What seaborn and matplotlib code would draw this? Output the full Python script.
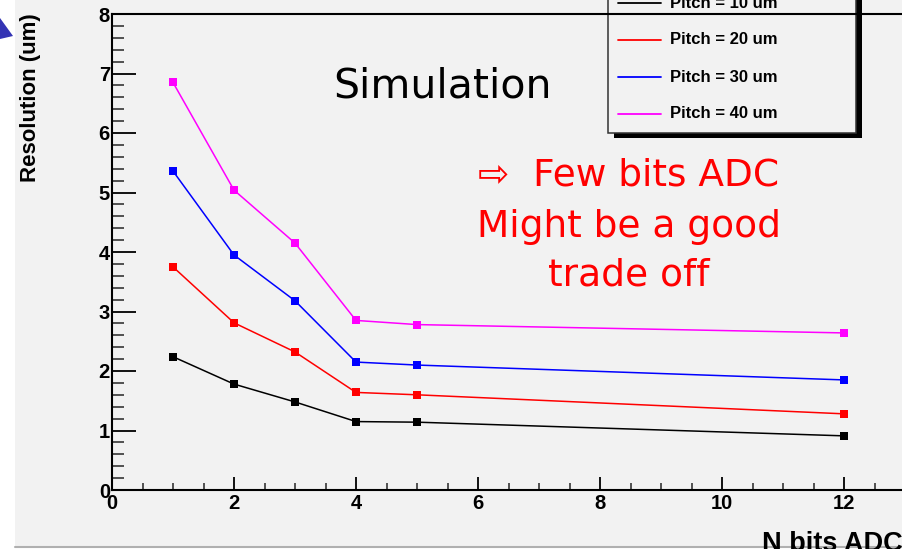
import numpy as np
import pandas as pd
import matplotlib
matplotlib.use("Agg")
import matplotlib.pyplot as plt
from matplotlib.patches import Rectangle, Polygon
from matplotlib.lines import Line2D
from matplotlib.ticker import MultipleLocator
import seaborn as sns

# ---- data ----
n_bits = [1, 2, 3, 4, 5, 12]
res_pitch10 = [2.24, 1.78, 1.48, 1.15, 1.14, 0.91]
res_pitch20 = [3.75, 2.81, 2.32, 1.64, 1.60, 1.28]
res_pitch30 = [5.36, 3.95, 3.18, 2.15, 2.10, 1.85]
res_pitch40 = [6.85, 5.04, 4.15, 2.85, 2.78, 2.64]
series_labels = ["Pitch = 10 um", "Pitch = 20 um", "Pitch = 30 um", "Pitch = 40 um"]
series_colors = ["#000000", "#ff0000", "#0000ff", "#ff00ff"]
x_title = "N bits ADC"
y_title = "Resolution (um)"
note_title = "Simulation"
note_lines = ["\u21e8  Few bits ADC", "Might be a good", "trade off"]

df = pd.concat([
    pd.DataFrame({"bits": n_bits, "res": vals, "pitch": lab})
    for vals, lab in zip([res_pitch10, res_pitch20, res_pitch30, res_pitch40], series_labels)
])

sns.set_theme(style="white")
plt.rcParams["font.family"] = ["Liberation Sans", "DejaVu Sans"]

W, H = 902, 549
fig = plt.figure(figsize=(W / 100, H / 100), dpi=100, facecolor="white")

def fx(x):
    return x / W

def fy(y):
    return 1 - y / H

# slide panel background and decoration
fig.patches.append(Rectangle((fx(15), fy(546)), fx(W) - fx(15), fy(0) - fy(546),
                             transform=fig.transFigure, facecolor="#f2f2f2",
                             edgecolor="none", zorder=-10))
fig.lines.append(Line2D([fx(15), 1], [fy(547), fy(547)], transform=fig.transFigure,
                        color="#b0b0b0", lw=1.5, zorder=-9))
fig.patches.append(Polygon([(fx(0), fy(18)), (fx(13), fy(36)), (fx(0), fy(39))],
                           closed=True, transform=fig.transFigure,
                           facecolor="#3434b4", edgecolor="none", zorder=-8))

# axes: x 0 -> px 112, 61 px/unit ; y 0 -> px 490, 59.5 px/unit
xmax = 13.5
ax_left = 112
ax_w = xmax * 61
ax = fig.add_axes([fx(ax_left), fy(490), ax_w / W, (490 - 14) / H])
ax.set_facecolor("none")

sns.lineplot(data=df, x="bits", y="res", hue="pitch", palette=series_colors,
             marker="s", markersize=5.8, markeredgewidth=0, linewidth=1.1,
             legend=False, ax=ax, zorder=2)

ax.set_xlim(0, xmax)
ax.set_ylim(0, 8)
ax.xaxis.set_major_locator(MultipleLocator(2))
ax.xaxis.set_minor_locator(MultipleLocator(0.5))
ax.yaxis.set_major_locator(MultipleLocator(1))
ax.yaxis.set_minor_locator(MultipleLocator(0.2))
ax.tick_params(axis="y", which="major", direction="in", length=17, width=1.3,
               pad=1.5, labelsize=14.5, colors="black", left=True)
ax.tick_params(axis="y", which="minor", direction="in", length=8.6, width=1.1, left=True)
ax.tick_params(axis="x", which="major", direction="in", length=9.5, width=1.3,
               pad=3, labelsize=14.5, colors="black", bottom=True)
ax.tick_params(axis="x", which="minor", direction="in", length=5, width=1.1, bottom=True)
for lab in ax.get_xticklabels() + ax.get_yticklabels():
    lab.set_fontweight("bold")

for side in ["left", "bottom", "top"]:
    ax.spines[side].set_visible(True)
    ax.spines[side].set_color("black")
    ax.spines[side].set_linewidth(1.5)
    ax.spines[side].set_zorder(3)
ax.spines["right"].set_visible(False)

ax.set_xlabel(x_title, fontsize=19.5, fontweight="bold", color="black", ha="left")
ax.xaxis.set_label_coords((762 - ax_left) / ax_w, (490 - 531) / 476)
ax.set_ylabel(y_title, fontsize=16, fontweight="bold", color="black")
ax.yaxis.set_label_coords((41 - ax_left) / ax_w, (490 - 98) / 476)

# annotations
fig.text(fx(333), fy(98), note_title, fontsize=29.5, family="DejaVu Sans",
         color="black", ha="left", va="baseline")
for line, base in zip(note_lines, [186, 237, 286]):
    fig.text(fx(629), fy(base), line, fontsize=27, family="DejaVu Sans",
             color="#ff0000", ha="center", va="baseline")

# legend (drawn under the frame line, like the reference)
tf = fig.transFigure
ax.add_patch(Rectangle((fx(614), fy(138)), fx(862) - fx(614), fy(-20) - fy(138),
                       transform=tf, facecolor="black", edgecolor="none",
                       zorder=2.1, clip_on=False))
ax.add_patch(Rectangle((fx(608), fy(133)), fx(856) - fx(608), fy(-20) - fy(133),
                       transform=tf, facecolor="#f2f2f2", edgecolor="#333333",
                       lw=1.1, zorder=2.2, clip_on=False))
for lab, col, yy in zip(series_labels, series_colors, [3, 40, 77, 114]):
    ax.add_line(Line2D([fx(618), fx(661)], [fy(yy), fy(yy)], transform=tf,
                       color=col, lw=1.3, zorder=2.3, clip_on=False))
    ax.text(fx(670), fy(yy), lab, transform=tf, fontsize=12, fontweight="bold",
            color="black", ha="left", va="center", zorder=2.3, clip_on=False)

fig.savefig("out.png", dpi=100, facecolor=fig.get_facecolor())
